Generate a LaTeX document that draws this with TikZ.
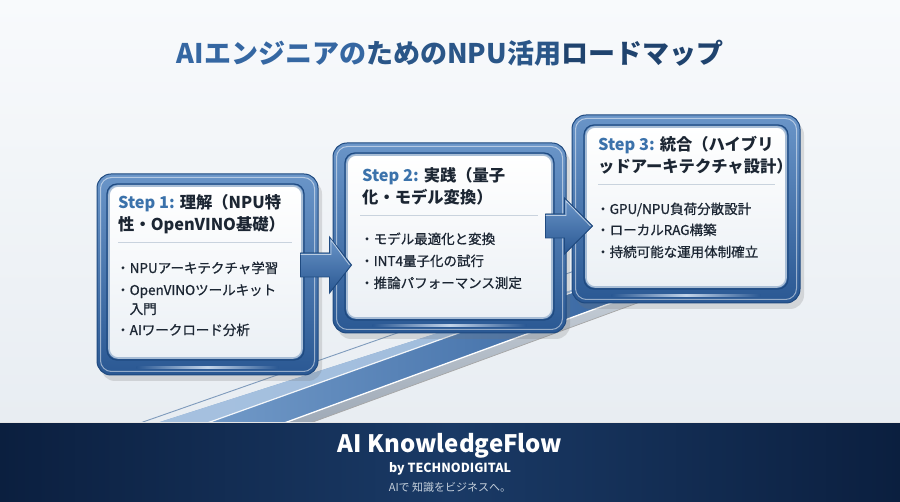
\documentclass[tikz,border=0pt]{standalone}
\usepackage{fontspec}
\setmainfont{Noto Sans CJK JP}
\newfontfamily\jpmed[FakeBold=0.8]{Noto Sans CJK JP}
\usetikzlibrary{calc,shadows}
\definecolor{bgtop}{HTML}{F8FAFC}
\definecolor{bgbot}{HTML}{E8EDF2}
\definecolor{foot1}{HTML}{0B1F3F}
\definecolor{foot2}{HTML}{1A3A66}
\definecolor{frametop}{HTML}{6A95C8}
\definecolor{framebot}{HTML}{2A5893}
\definecolor{framedark}{HTML}{1F4A80}
\definecolor{panelbot}{HTML}{EBF0F5}
\definecolor{panelrim}{HTML}{A9BED6}
\definecolor{textdark}{HTML}{1C2633}
\definecolor{stepblue}{HTML}{3B72AB}
\definecolor{sepline}{HTML}{C9D3DE}
\definecolor{ti1}{HTML}{3567A2}
\definecolor{ti2}{HTML}{2A5688}
\definecolor{ti3}{HTML}{1F436E}
\definecolor{rampL}{HTML}{7BA2CE}
\definecolor{rampM}{HTML}{6F9BCB}
\definecolor{rampR}{HTML}{34639F}
\definecolor{rampsilverA}{HTML}{C6CED7}
\definecolor{rampsilverB}{HTML}{9EA9B6}
\definecolor{ramplight}{HTML}{ABC5E2}
\definecolor{rampline}{HTML}{7F9BBC}
\definecolor{tagcol}{HTML}{C5D0DC}
\begin{document}
\begin{tikzpicture}[x=1pt,y=-1pt,
  frame/.style={rectangle,rounded corners=14pt,draw=framedark,line width=1pt,
    top color=frametop,bottom color=framebot,inner sep=0pt,
    drop shadow={shadow xshift=4pt,shadow yshift=-6pt,opacity=.22,fill=black!55}},
  rim/.style={rectangle,rounded corners=11pt,draw=white,draw opacity=.5,line width=1pt,inner sep=0pt},
  panel/.style={rectangle,rounded corners=9pt,draw=panelrim,line width=1.6pt,
    top color=white,bottom color=panelbot,inner sep=0pt},
  paneledge/.style={rectangle,rounded corners=10pt,draw=framedark,line width=1.2pt,inner sep=0pt},
  gleam/.style={left color=framebot,right color=framebot,middle color=frametop!40!white},
  blockarrow/.style={top color=frametop,bottom color=framebot,draw=framedark,line width=.9pt,line join=miter},
  arrowlight/.style={draw=white,draw opacity=.6,line width=.8pt},
  ttl/.style={anchor=base west,inner sep=0pt,font=\fontsize{16.3}{18}\selectfont\bfseries,text=textdark},
  itm/.style={anchor=base west,inner sep=0pt,font=\jpmed\fontsize{13.5}{16}\selectfont,text=textdark},
  sep/.style={draw=sepline,line width=.8pt}]
\useasboundingbox (0,0) rectangle (900,502);
% background
\shade[top color=bgtop,bottom color=bgbot] (0,0) rectangle (900,423);
% ramp
\draw[rampline,line width=.9pt] (120.1,430) -- (660,241.05);
\shade[left color=rampL,middle color=rampM,right color=rampR] (135,430) -- (660,262) -- (660,285.1) -- (265.2,430) -- cycle;
\fill[ramplight,opacity=.9] (135,430) -- (600,281) -- (600,282.4) -- (187.7,430) -- cycle;
\draw[white,line width=1.2pt,opacity=.9] (187.7,430) -- (600,282.4);
\shade[top color=rampsilverA,bottom color=rampsilverB] (265.2,430) -- (660,285.1) -- (660,294.7) -- (291.2,430) -- cycle;
\draw[white,line width=1.3pt] (265.2,430) -- (660,285.1);
\draw[black!35,line width=.7pt] (291.2,430) -- (660,294.7);
% title
\node[anchor=center,inner sep=0pt,font=\fontsize{27}{30}\selectfont\bfseries] (title) at (450,53)
  {\textcolor{ti1}{AIエンジニアの}\textcolor{ti2}{ためのNPU活用}\textcolor{ti3}{ロードマップ}};
% boxes
\node[frame,minimum width=221pt,minimum height=201pt] (b1) at (207.5,274.5) {};
\shade[gleam] ($(b1.south west)+(40,-9)$) rectangle ($(b1.south east)+(-40,-6.5)$);
\node[rim,minimum width=214pt,minimum height=194pt] (r1) at (207.5,274.5) {};
\node[paneledge,minimum width=197pt,minimum height=176pt] (e1) at (205.5,272) {};
\node[panel,minimum width=193pt,minimum height=172pt] (p1) at (205.5,272) {};
\node[frame,minimum width=233pt,minimum height=190pt] (b2) at (449.5,238) {};
\shade[gleam] ($(b2.south west)+(40,-9)$) rectangle ($(b2.south east)+(-40,-6.5)$);
\node[rim,minimum width=226pt,minimum height=183pt] (r2) at (449.5,238) {};
\node[paneledge,minimum width=209pt,minimum height=167pt] (e2) at (449.5,236.5) {};
\node[panel,minimum width=205pt,minimum height=163pt] (p2) at (449.5,236.5) {};
\node[frame,minimum width=228pt,minimum height=188pt] (b3) at (686,209) {};
\shade[gleam] ($(b3.south west)+(40,-9)$) rectangle ($(b3.south east)+(-40,-6.5)$);
\node[rim,minimum width=221pt,minimum height=181pt] (r3) at (686,209) {};
\node[paneledge,minimum width=204pt,minimum height=164pt] (e3) at (686,207) {};
\node[panel,minimum width=200pt,minimum height=160pt] (p3) at (686,207) {};
% connectors
\coordinate (s1) at ($(b1.east)+(-18,-9.5)$);
\coordinate (t1) at ($(b2.west)+(19,27)$);
\filldraw[blockarrow] ($(s1)+(0,-12)$) -- ($(t1)+(-22,-12)$) -- ($(t1)+(-22,-28)$) -- (t1)
  -- ($(t1)+(-22,28)$) -- ($(t1)+(-22,12)$) -- ($(s1)+(0,12)$) -- cycle;
\draw[arrowlight] ($(s1)+(0,-10.5)$) -- ($(t1)+(-20.5,-10.5)$) -- ($(t1)+(-20.5,-25)$) -- ($(t1)+(-2,0)$);
\coordinate (s2) at ($(b2.east)+(-21,-12)$);
\coordinate (t2) at ($(b3.west)+(21,17)$);
\filldraw[blockarrow] ($(s2)+(0,-12)$) -- ($(t2)+(-28,-12)$) -- ($(t2)+(-28,-28)$) -- (t2)
  -- ($(t2)+(-28,28)$) -- ($(t2)+(-28,12)$) -- ($(s2)+(0,12)$) -- cycle;
\draw[arrowlight] ($(s2)+(0,-10.5)$) -- ($(t2)+(-26.5,-10.5)$) -- ($(t2)+(-26.5,-25)$) -- ($(t2)+(-2,0)$);
% box 1 text
\node[ttl] (h1a) at (118,209) {\textcolor{stepblue}{Step 1:} 理解（NPU特};
\node[ttl] (h1b) at (118,231) {性・OpenVINO基礎）};
\draw[sep] (118,242) -- (292,242);
\node[itm] (i1a) at (116,273) {・NPUアーキテクチャ学習};
\node[itm] (i1b) at (116,295) {・OpenVINOツールキット};
\node[itm] (i1c) at (116,314) {\phantom{・}入門};
\node[itm] (i1d) at (116,335) {・AIワークロード分析};
% box 2 text
\node[ttl] (h2a) at (362,182) {\textcolor{stepblue}{Step 2:} 実践（量子};
\node[ttl] (h2b) at (362,204) {化・モデル変換）};
\draw[sep] (360,215) -- (538,215);
\node[itm] (i2a) at (360,244) {・モデル最適化と変換};
\node[itm] (i2b) at (360,266) {・INT4量子化の試行};
\node[itm] (i2c) at (360,288) {・推論パフォーマンス測定};
% box 3 text
\node[ttl] (h3a) at (598,151) {\textcolor{stepblue}{Step 3:} 統合（ハイブリ};
\node[ttl] (h3b) at (598,173) {ッドアーキテクチャ設計）};
\draw[sep] (598,184) -- (775,184);
\node[itm] (i3a) at (596,214) {・GPU/NPU負荷分散設計};
\node[itm] (i3b) at (596,235) {・ローカルRAG構築};
\node[itm] (i3c) at (596,257) {・持続可能な運用体制確立};
% footer
\shade[left color=foot1,right color=foot1,middle color=foot2] (0,423) rectangle (900,502);
\draw[white!80!gray,line width=1pt] (0,423) -- (900,423);
\node[anchor=base,inner sep=0pt,text=white,font=\fontsize{24}{28}\selectfont\bfseries] (brand) at (450,453) {AI KnowledgeFlow};
\node[anchor=base,inner sep=0pt,text=white,font=\fontsize{12.5}{14}\selectfont\bfseries] (by) at (450,472) {by TECHNODIGITAL};
\node[anchor=base,inner sep=0pt,text=tagcol,font=\fontsize{11}{13}\selectfont] (tag) at (450,492) {AIで 知識をビジネスへ。};
\end{tikzpicture}
\end{document}
